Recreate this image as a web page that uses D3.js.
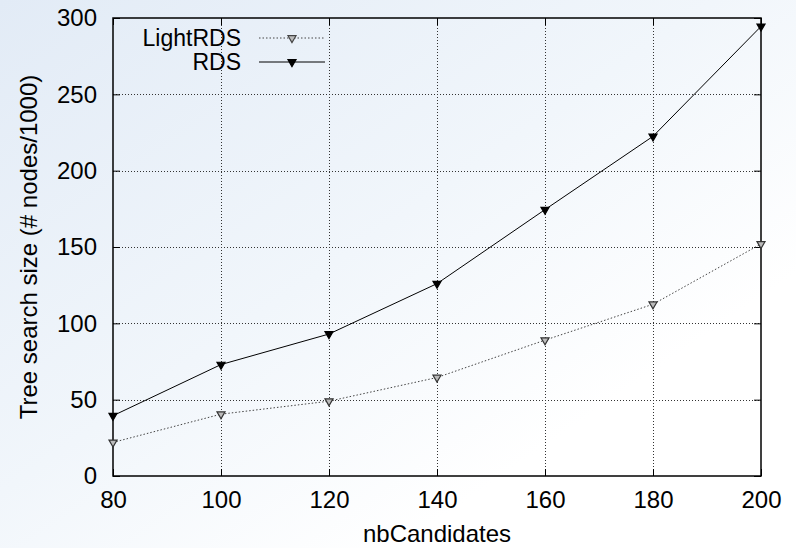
<!DOCTYPE html>
<html lang="en">
  <head>
    <meta charset="utf-8">
    <title>Tree search size</title>
    <script src="https://d3js.org/d3.v7.min.js"></script>
    <style>
      body { margin: 0; }
      text { font-family: "Liberation Sans", Arial, sans-serif; fill: #000; }
    </style>
  </head>
  <body>
    <script>
      var width = 796,
      height = 548;

      // data
      var candidates = [80, 100, 120, 140, 160, 180, 200];
      var lightRDS = [22, 40.5, 49, 64.5, 89, 112.5, 152];
      var rds = [39.5, 73, 93, 126, 174.5, 222.5, 294.5];
      var xTicks = [80, 100, 120, 140, 160, 180, 200];
      var yTicks = [0, 50, 100, 150, 200, 250, 300];

      var margin = {left: 113, top: 18, right: 35, bottom: 72};

      var x = d3.scaleLinear().domain([80, 200]).range([margin.left, width - margin.right]);
      var y = d3.scaleLinear().domain([0, 300]).range([height - margin.bottom, margin.top]);

      var svg = d3.select("body").append("svg")
        .attr("width", width)
        .attr("height", height);

      // pale bluish background wash
      var defs = svg.append("defs");
      var grad = defs.append("linearGradient")
        .attr("id", "bg")
        .attr("x1", "0").attr("y1", "0")
        .attr("x2", "1").attr("y2", "1");
      grad.append("stop").attr("offset", "0%").attr("stop-color", "#e2ebf6");
      grad.append("stop").attr("offset", "45%").attr("stop-color", "#f1f6fb");
      grad.append("stop").attr("offset", "75%").attr("stop-color", "#ffffff");
      grad.append("stop").attr("offset", "100%").attr("stop-color", "#ffffff");
      svg.append("rect").attr("width", width).attr("height", height).attr("fill", "url(#bg)");

      var x0 = x.range()[0], x1 = x.range()[1];
      var y0 = y.range()[0], y1 = y.range()[1];

      // grid
      var grid = svg.append("g")
        .attr("stroke", "#333")
        .attr("stroke-width", 1)
        .attr("stroke-dasharray", "1,2");
      grid.selectAll(".gy").data(yTicks.slice(1, -1)).enter().append("line")
        .attr("x1", x0).attr("x2", x1)
        .attr("y1", function(d) { return Math.round(y(d)) + 0.5; })
        .attr("y2", function(d) { return Math.round(y(d)) + 0.5; });
      grid.selectAll(".gx").data(xTicks.slice(1, -1)).enter().append("line")
        .attr("y1", y0).attr("y2", y1)
        .attr("x1", function(d) { return Math.round(x(d)) + 0.5; })
        .attr("x2", function(d) { return Math.round(x(d)) + 0.5; });

      // axes with inward ticks, mirrored on top/right
      var fs = "24px";
      svg.append("g")
        .attr("transform", "translate(0," + y0 + ")")
        .call(d3.axisBottom(x).tickValues(xTicks).tickSize(-7).tickPadding(15))
        .call(function(g) {
          g.select(".domain").remove();
          g.selectAll("text").style("font-size", fs).attr("dy", "0.71em");
        });
      svg.append("g")
        .attr("transform", "translate(0," + y1 + ")")
        .call(d3.axisTop(x).tickValues(xTicks).tickSize(-7).tickFormat(""))
        .call(function(g) { g.select(".domain").remove(); });
      svg.append("g")
        .attr("transform", "translate(" + x0 + ",0)")
        .call(d3.axisLeft(y).tickValues(yTicks).tickSize(-7).tickPadding(16))
        .call(function(g) {
          g.select(".domain").remove();
          g.selectAll("text").style("font-size", fs);
        });
      svg.append("g")
        .attr("transform", "translate(" + x1 + ",0)")
        .call(d3.axisRight(y).tickValues(yTicks).tickSize(-7).tickFormat(""))
        .call(function(g) { g.select(".domain").remove(); });

      svg.append("rect")
        .attr("x", x0).attr("y", y1)
        .attr("width", x1 - x0).attr("height", y0 - y1)
        .attr("fill", "none")
        .attr("stroke", "#000")
        .attr("stroke-width", 1.5);

      // axis titles
      svg.append("text")
        .attr("x", (x0 + x1) / 2)
        .attr("y", 542)
        .attr("text-anchor", "middle")
        .style("font-size", fs)
        .text("nbCandidates");
      svg.append("text")
        .attr("transform", "translate(37," + ((y0 + y1) / 2) + ") rotate(-90)")
        .attr("text-anchor", "middle")
        .style("font-size", fs)
        .text("Tree search size (# nodes/1000)");

      var line = d3.line()
        .x(function(d, i) { return x(candidates[i]); })
        .y(function(d) { return y(d); });

      var tri = d3.symbol().type(d3.symbolTriangle).size(28);

      function drawSeries(values, dash, color, fill, stroke) {
        svg.append("path")
          .datum(values)
          .attr("d", line)
          .attr("fill", "none")
          .attr("stroke", color)
          .attr("stroke-width", 1)
          .attr("stroke-dasharray", dash);
        svg.append("g").selectAll("path")
          .data(values)
          .enter().append("path")
          .attr("d", tri)
          .attr("transform", function(d, i) { return "translate(" + x(candidates[i]) + "," + y(d) + ") rotate(180)"; })
          .attr("fill", fill)
          .attr("stroke", stroke)
          .attr("stroke-width", 1.2);
      }

      drawSeries(lightRDS, "1.5,2", "#444", "#bbb", "#333");
      drawSeries(rds, null, "#000", "#000", "#000");

      // legend
      var legend = [
        {name: "LightRDS", dash: "1.5,2", color: "#444", fill: "#bbb", y: 38},
        {name: "RDS", dash: null, color: "#000", fill: "#000", y: 62}
      ];
      var lg = svg.append("g").selectAll("g").data(legend).enter().append("g");
      lg.append("text")
        .attr("x", 241)
        .attr("y", function(d) { return d.y + 7.5; })
        .attr("text-anchor", "end")
        .style("font-size", "23px")
        .text(function(d) { return d.name; });
      lg.append("line")
        .attr("x1", 259).attr("x2", 325)
        .attr("y1", function(d) { return d.y; })
        .attr("y2", function(d) { return d.y; })
        .attr("stroke", function(d) { return d.color; })
        .attr("stroke-width", 1)
        .attr("stroke-dasharray", function(d) { return d.dash; });
      lg.append("path")
        .attr("d", tri)
        .attr("transform", function(d) { return "translate(292," + d.y + ") rotate(180)"; })
        .attr("fill", function(d) { return d.fill; })
        .attr("stroke", function(d) { return d.color; })
        .attr("stroke-width", 1.2);
    </script>
  </body>
</html>
